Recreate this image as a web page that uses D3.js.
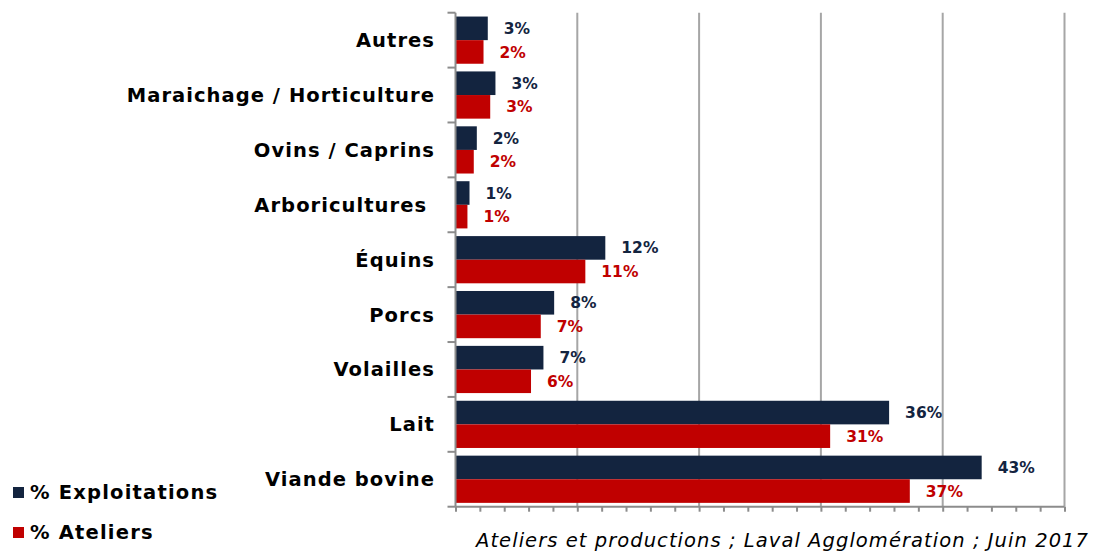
<!DOCTYPE html>
<html><head><meta charset="utf-8">
<script src="https://cdn.jsdelivr.net/npm/d3@7"></script>
<style>
html,body{margin:0;padding:0;background:#fff;}
text{font-family:"DejaVu Sans",Verdana,sans-serif;}
</style></head>
<body>
<svg id="chart" width="1095" height="552"></svg>
<script>
const categories = ["Autres","Maraichage / Horticulture","Ovins / Caprins","Arboricultures ","Équins","Porcs","Volailles","Lait","Viande bovine"];
const exploitations = [2.65, 3.28, 1.75, 1.15, 12.3, 8.1, 7.22, 35.6, 43.2];
const ateliers      = [2.3, 2.85, 1.5, 0.98, 10.66, 7.0, 6.2, 30.76, 37.3];
const exploitLabels = ["3%","3%","2%","1%","12%","8%","7%","36%","43%"];
const atelierLabels = ["2%","3%","2%","1%","11%","7%","6%","31%","37%"];
const seriesNames = ["% Exploitations","% Ateliers"];
const colors = ["#13243f","#c00000"];
const xTicksMajor = [0,10,20,30,40,50];
const caption = "Ateliers et productions ; Laval Agglomération ; Juin 2017";

const svg = d3.select("#chart");
const pLeft = 455.5, pRight = 1064.5, pTop = 12.7, pBottom = 506.7;
const x = d3.scaleLinear().domain([0,50]).range([pLeft,pRight]);
const y = d3.scaleBand().domain(categories).range([pTop,pBottom]).paddingInner(0.14).paddingOuter(0.07);

// gridlines
svg.append("g").selectAll("line").data(xTicksMajor.slice(1)).join("line")
  .attr("x1",d=>x(d)).attr("x2",d=>x(d)).attr("y1",pTop).attr("y2",pBottom)
  .attr("stroke","#a6a6a6").attr("stroke-width",2);

// bars
const bh = y.bandwidth()/2;
const g = svg.append("g");
g.selectAll("rect.e").data(categories).join("rect").attr("class","e")
  .attr("x",x(0)).attr("y",d=>y(d)).attr("width",(d,i)=>x(exploitations[i])-x(0)).attr("height",bh)
  .attr("fill",colors[0]);
g.selectAll("rect.a").data(categories).join("rect").attr("class","a")
  .attr("x",x(0)).attr("y",d=>y(d)+bh).attr("width",(d,i)=>x(ateliers[i])-x(0)).attr("height",bh)
  .attr("fill",colors[1]);

// data labels
g.selectAll("text.le").data(categories).join("text").attr("class","le")
  .attr("x",(d,i)=>x(exploitations[i])+16).attr("y",d=>y(d)+bh/2).attr("dy","0.36em")
  .attr("font-size",15.5).attr("font-weight","bold").attr("fill",colors[0])
  .text((d,i)=>exploitLabels[i]);
g.selectAll("text.la").data(categories).join("text").attr("class","la")
  .attr("x",(d,i)=>x(ateliers[i])+16).attr("y",d=>y(d)+bh*1.5).attr("dy","0.36em")
  .attr("font-size",15.5).attr("font-weight","bold").attr("fill",colors[1])
  .text((d,i)=>atelierLabels[i]);

// y axis
const yAxis = d3.axisLeft(y).tickSize(0).tickFormat("");
const ya = svg.append("g").attr("transform",`translate(${pLeft},0)`).call(yAxis);
ya.select(".domain").attr("stroke","#8c8c8c").attr("stroke-width",2).attr("d",`M0,${pTop}V${pBottom}`);
const bounds = categories.map(c=>y(c)-y.step()*y.paddingInner()/2).concat([pBottom]);
svg.append("g").selectAll("line").data(bounds).join("line")
  .attr("x1",pLeft-8).attr("x2",pLeft).attr("y1",d=>d).attr("y2",d=>d)
  .attr("stroke","#8c8c8c").attr("stroke-width",2);

// category labels
svg.append("g").selectAll("text").data(categories).join("text")
  .attr("x",435).attr("y",d=>y(d)+y.bandwidth()/2).attr("dy","0.36em")
  .attr("text-anchor","end").attr("font-size",19.5).attr("font-weight","bold").attr("fill","#000")
  .attr("letter-spacing","1.05px")
  .style("white-space","pre")
  .text(d=>d);

// x axis
const xAxis = d3.axisBottom(x).ticks(25).tickSize(5).tickFormat("");
const xa = svg.append("g").attr("transform",`translate(0,${pBottom})`).call(xAxis);
xa.select(".domain").attr("stroke","#8c8c8c").attr("stroke-width",2).attr("d",`M${pLeft},0H${pRight}`);
xa.selectAll(".tick line").attr("stroke","#8c8c8c").attr("stroke-width",2);

// legend
const lg = svg.append("g");
seriesNames.forEach((n,i)=>{
  const yy = [487,527][i];
  lg.append("rect").attr("x",13).attr("y",yy).attr("width",11).attr("height",11).attr("fill",colors[i]);
  lg.append("text").attr("x",30).attr("y",yy+11.5).attr("font-size",19.5).attr("font-weight","bold")
    .attr("letter-spacing","1.2px").attr("fill","#000").text(n);
});

// caption
svg.append("text").attr("x",476).attr("y",547)
  .attr("font-size",19.5).attr("font-style","italic").attr("fill","#000")
  .attr("textLength",612).attr("lengthAdjust","spacing").text(caption);
</script>
</body></html>
